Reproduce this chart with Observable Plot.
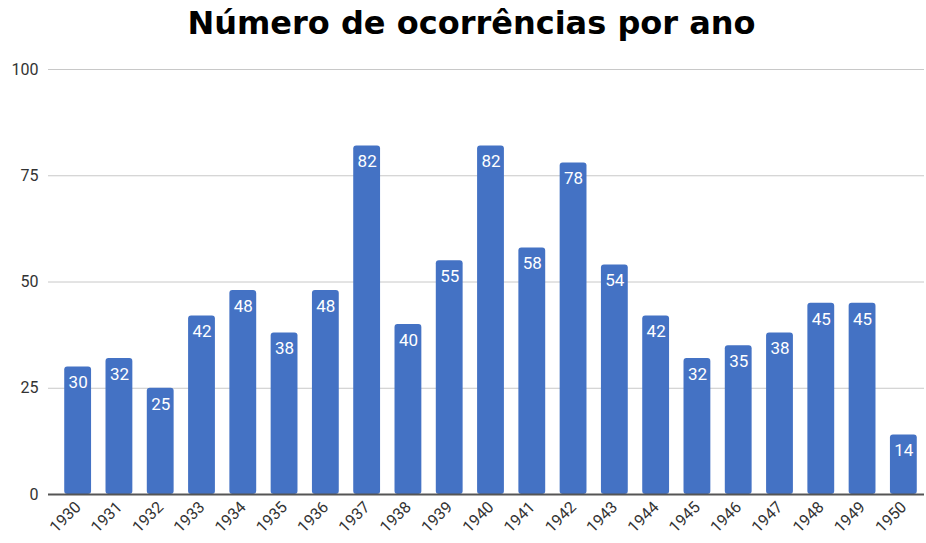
<!DOCTYPE html>
<html>
<head>
<meta charset="utf-8">
<script src="https://cdn.jsdelivr.net/npm/d3@7"></script>
<script src="https://cdn.jsdelivr.net/npm/@observablehq/plot@0.6"></script>
<style>
  html, body { margin: 0; padding: 0; background: #fff; }
  #title { height: 50px; line-height: 47px; text-align: center; font-family: "DejaVu Sans", sans-serif; font-weight: bold; font-size: 32px; color: #000; width: 909px; padding-left: 17px; }
</style>
</head>
<body>
<div id="title">Número de ocorrências por ano</div>
<div id="chart"></div>
<script>
const years = ["1930","1931","1932","1933","1934","1935","1936","1937","1938","1939","1940","1941","1942","1943","1944","1945","1946","1947","1948","1949","1950"];
const counts = [30,32,25,42,48,38,48,82,40,55,82,58,78,54,42,32,35,38,45,45,14];
const yTicks = [0,25,50,75,100];

const data = years.map((y, i) => ({year: y, count: counts[i]}));

const chart = Plot.plot({
  width: 926,
  height: 493,
  marginLeft: 57,
  marginRight: 2,
  marginTop: 19,
  marginBottom: 49,
  style: { fontFamily: "Roboto, 'Noto Sans', sans-serif", background: "#fff" },
  x: { domain: years, paddingInner: 0.35, paddingOuter: 0.175, round: false, label: null },
  y: { domain: [0, 100], label: null },
  marks: [
    Plot.ruleY(yTicks.filter(d => d > 0), { stroke: "#c8c8c8", strokeWidth: 1, insetLeft: -9 }),
    Plot.barY(data, { x: "year", y: "count", fill: "#4472C4", rx: 3 }),
    Plot.ruleY([0], { stroke: "#555", strokeWidth: 2, insetLeft: -9 }),
    Plot.text(data, { x: "year", y: "count", text: d => String(d.count), fill: "#fff", fontSize: 17, dy: 16 }),
    Plot.axisY({ ticks: yTicks, tickSize: 0, tickPadding: 19, fontSize: 16, fill: "#333", label: null }),
    Plot.axisX({ tickSize: 0, tickRotate: -45, tickPadding: 10, fontSize: 16, fill: "#333", label: null })
  ]
});
document.getElementById("chart").appendChild(chart);
</script>
</body>
</html>
